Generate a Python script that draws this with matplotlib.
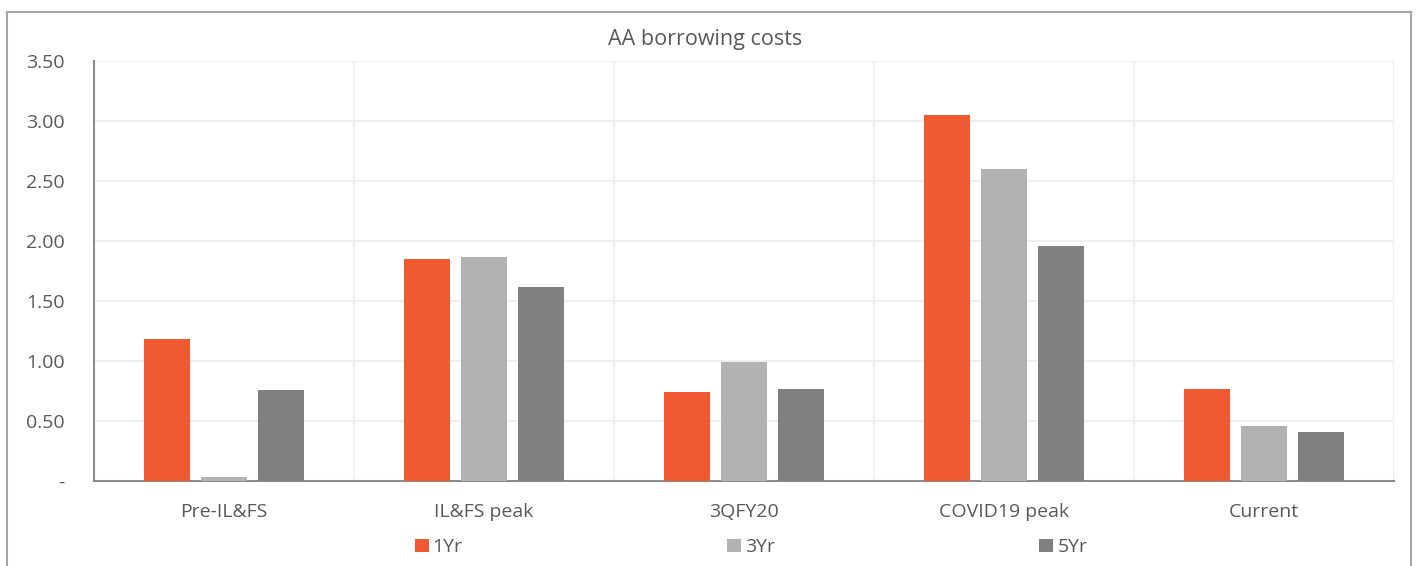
import matplotlib.pyplot as plt
from matplotlib.patches import Patch, Rectangle
from matplotlib.ticker import FuncFormatter

plt.rcParams['font.family'] = ['Open Sans', 'DejaVu Sans']

categories = ["Pre-IL&FS", "IL&FS peak", "3QFY20", "COVID19 peak", "Current"]
series_names = ["1Yr", "3Yr", "5Yr"]
yr1 = [1.18, 1.85, 0.74, 3.05, 0.77]
yr3 = [0.03, 1.87, 0.99, 2.60, 0.46]
yr5 = [0.76, 1.62, 0.77, 1.96, 0.41]
yticks = [0, 0.5, 1.0, 1.5, 2.0, 2.5, 3.0, 3.5]

colors = ["#F05A32", "#B2B2B2", "#808080"]
text_col = "#595959"
fs = 14

fig = plt.figure(figsize=(14.16, 5.66), dpi=100)
ax = fig.add_axes([94 / 1416, 85 / 566, 1300 / 1416, 420 / 566])

width = 0.177
offsets = [-0.219, 0, 0.219]
xs = range(len(categories))
for vals, off, col, name in zip([yr1, yr3, yr5], offsets, colors, series_names):
    ax.bar([x + off for x in xs], vals, width=width, color=col, label=name,
           linewidth=0, zorder=3)

ax.set_xlim(-0.5, len(categories) - 0.5)
ax.set_ylim(0, 3.5)
ax.set_yticks(yticks)
ax.yaxis.set_major_formatter(FuncFormatter(lambda v, p: "-" if v == 0 else f"{v:.2f}"))
ax.set_xticks(list(xs))
ax.set_xticklabels(categories)

# light grid: horizontal at ticks, vertical at category boundaries
for y in yticks[1:]:
    ax.axhline(y, color="#EFEFEF", lw=1.5, zorder=0)
for b in range(1, len(categories) + 1):
    ax.axvline(b - 0.5, color="#EFEFEF", lw=1.5, zorder=0)

for s in ["top", "right"]:
    ax.spines[s].set_visible(False)
ax.spines["left"].set_color("#8C8C8C")
ax.spines["bottom"].set_color("#8C8C8C")
ax.spines["left"].set_linewidth(1.5)
ax.spines["bottom"].set_linewidth(1.5)
ax.tick_params(axis="both", length=0, labelsize=fs, labelcolor=text_col)
ax.tick_params(axis="x", pad=16)
ax.tick_params(axis="y", pad=21)

fig.text(705 / 1416, 1 - 40 / 566, "AA borrowing costs", ha="center", va="center",
         fontsize=15.5, color=text_col)

handles = [Patch(facecolor=c, edgecolor="none") for c in colors]
fig.legend(handles, series_names, loc="center", bbox_to_anchor=(751 / 1416, 1 - 547 / 566),
           ncol=3, frameon=False, fontsize=fs, labelcolor=text_col,
           handlelength=0.72, handleheight=0.67, handletextpad=0.2, columnspacing=13.6)

# outer chart frame
fig.patches.append(Rectangle((7 / 1416, -0.1), 1404 / 1416, 1.1 - 12 / 566,
                             transform=fig.transFigure, fill=False,
                             edgecolor="#A6A6A6", lw=1.5))

fig.savefig("out.png", dpi=100)
